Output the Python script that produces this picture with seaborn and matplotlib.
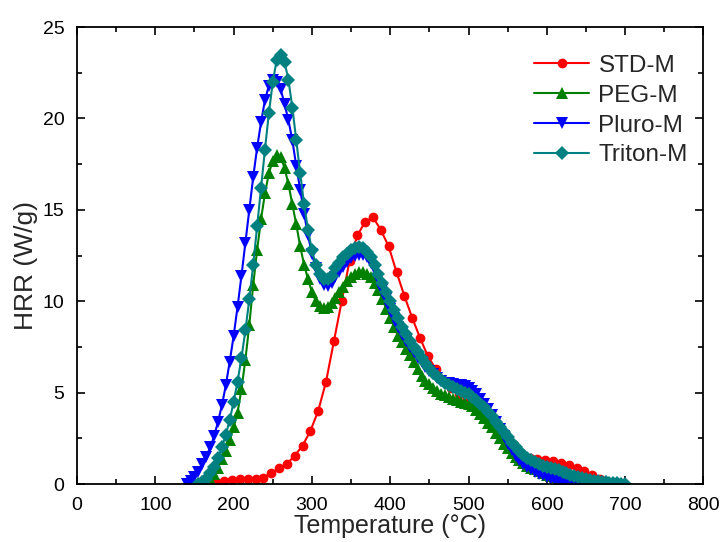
import pandas as pd
import seaborn as sns
import matplotlib.pyplot as plt
from matplotlib.ticker import MultipleLocator

# STD-M (red circles), sampled about every 10 °C
std_temp = [168, 178, 188, 198, 208, 218, 228, 238, 248, 258, 268, 278, 288, 298, 308, 318,
            328, 338, 348, 358, 368, 378, 388, 398, 408, 418, 428, 438, 448, 458, 468, 478,
            488, 498, 508, 518, 528, 538, 548, 558, 568, 578, 588, 598, 608, 618, 628, 638,
            648, 658, 668, 678, 688, 698]
std_hrr = [0.0, 0.1, 0.18, 0.23, 0.26, 0.28, 0.3, 0.35, 0.6, 0.85, 1.1, 1.55, 2.1, 2.9, 4.0, 5.6,
           7.8, 10.0, 12.2, 13.6, 14.35, 14.6, 13.9, 13.0, 11.6, 10.3, 9.1, 8.0, 7.0, 6.3, 5.7, 5.25,
           4.95, 4.7, 4.45, 4.05, 3.5, 2.8, 2.2, 1.75, 1.5, 1.4, 1.35, 1.3, 1.25, 1.15, 1.05, 0.9,
           0.7, 0.48, 0.28, 0.13, 0.04, 0.0]

# PEG-M (green up triangles)
peg_temp = [160, 165, 170, 175, 180, 185, 190, 195, 200, 205, 210, 215, 220, 225, 230, 235,
            240, 245, 250, 255, 260, 265, 270, 275, 280, 285, 290, 295, 300, 305, 310, 315,
            320, 325, 330, 335, 340, 345, 350, 355, 360, 365, 370, 375, 380, 385, 390, 395,
            400, 405, 410, 415, 420, 425, 430, 435, 440, 445, 450, 455, 460, 465, 470, 475,
            480, 485, 490, 495, 500, 505, 510, 515, 520, 525, 530, 535, 540, 545, 550, 555,
            560, 565, 570, 575, 580, 585, 590, 595, 600, 605, 610, 615, 620, 625, 630, 635,
            640, 645, 650]
peg_hrr = [0.0, 0.08, 0.3, 0.55, 0.9, 1.35, 1.8, 2.4, 3.1, 3.9, 5.2, 6.8, 8.7, 10.9, 12.8, 14.5,
           15.9, 17.0, 17.7, 18.0, 17.9, 17.3, 16.4, 15.3, 14.2, 13.0, 12.0, 11.2, 10.5, 10.0, 9.75, 9.65,
           9.7, 9.9, 10.2, 10.5, 10.8, 11.1, 11.3, 11.5, 11.6, 11.6, 11.5, 11.3, 11.0, 10.6, 10.1, 9.6,
           9.1, 8.6, 8.1, 7.75, 7.4, 7.05, 6.7, 6.3, 5.9, 5.65, 5.45, 5.25, 5.1, 4.95, 4.85, 4.75,
           4.65, 4.6, 4.5, 4.45, 4.4, 4.25, 4.05, 3.85, 3.6, 3.35, 3.1, 2.8, 2.5, 2.2, 1.95, 1.7,
           1.5, 1.3, 1.15, 1.0, 0.9, 0.8, 0.7, 0.6, 0.52, 0.44, 0.37, 0.3, 0.24, 0.18, 0.13, 0.09,
           0.05, 0.02, 0.0]

# Pluro-M (blue down triangles)
pluro_temp = [140, 145, 150, 155, 160, 165, 170, 175, 180, 185, 190, 195, 200, 205, 210, 215,
              220, 225, 230, 235, 240, 245, 250, 255, 260, 265, 270, 275, 280, 285, 290, 295,
              300, 305, 310, 315, 320, 325, 330, 335, 340, 345, 350, 355, 360, 365, 370, 375,
              380, 385, 390, 395, 400, 405, 410, 415, 420, 425, 430, 435, 440, 445, 450, 455,
              460, 465, 470, 475, 480, 485, 490, 495, 500, 505, 510, 515, 520, 525, 530, 535,
              540, 545, 550, 555, 560, 565, 570, 575, 580, 585, 590, 595, 600, 605, 610, 615,
              620, 625, 630, 635, 640, 645]
pluro_hrr = [0.0, 0.15, 0.4, 0.67, 1.1, 1.5, 2.0, 2.6, 3.4, 4.3, 5.4, 6.7, 8.1, 9.7, 11.4, 13.2,
             15.0, 16.8, 18.4, 19.8, 21.0, 21.8, 22.1, 22.0, 21.6, 20.8, 19.9, 18.8, 17.4, 16.1, 14.8, 13.6,
             12.6, 11.8, 11.2, 10.9, 10.85, 11.0, 11.3, 11.6, 11.9, 12.15, 12.35, 12.5, 12.55, 12.55, 12.4, 12.1,
             11.7, 11.2, 10.6, 10.1, 9.6, 9.1, 8.6, 8.2, 7.85, 7.5, 7.2, 6.9, 6.65, 6.4, 6.2, 6.0,
             5.8, 5.65, 5.55, 5.5, 5.45, 5.42, 5.4, 5.35, 5.25, 5.1, 4.9, 4.65, 4.4, 4.1, 3.8, 3.4,
             3.0, 2.6, 2.2, 1.85, 1.55, 1.3, 1.1, 0.95, 0.8, 0.68, 0.57, 0.47, 0.38, 0.3, 0.23, 0.17,
             0.12, 0.08, 0.05, 0.03, 0.01, 0.0]

# Triton-M (teal diamonds)
triton_temp = [155, 160, 165, 170, 175, 180, 185, 190, 195, 200, 205, 210, 215, 220, 225, 230,
               235, 240, 245, 250, 255, 260, 265, 270, 275, 280, 285, 290, 295, 300, 305, 310,
               315, 320, 325, 330, 335, 340, 345, 350, 355, 360, 365, 370, 375, 380, 385, 390,
               395, 400, 405, 410, 415, 420, 425, 430, 435, 440, 445, 450, 455, 460, 465, 470,
               475, 480, 485, 490, 495, 500, 505, 510, 515, 520, 525, 530, 535, 540, 545, 550,
               555, 560, 565, 570, 575, 580, 585, 590, 595, 600, 605, 610, 615, 620, 625, 630,
               635, 640, 645, 650, 655, 660, 665, 670, 675, 680, 685, 690, 695, 700]
triton_hrr = [0.0, 0.1, 0.3, 0.6, 0.95, 1.4, 2.0, 2.7, 3.5, 4.5, 5.6, 6.9, 8.4, 10.1, 12.0, 14.1,
              16.2, 18.3, 20.3, 22.0, 23.2, 23.5, 23.1, 22.1, 20.6, 18.8, 17.0, 15.3, 13.9, 12.8, 12.0, 11.5,
              11.2, 11.2, 11.4, 11.8, 12.1, 12.4, 12.6, 12.8, 12.9, 12.95, 12.9, 12.7, 12.4, 12.0, 11.5, 11.0,
              10.5, 10.0, 9.5, 9.1, 8.6, 8.2, 7.85, 7.5, 7.2, 6.9, 6.6, 6.35, 6.1, 5.9, 5.7, 5.55,
              5.4, 5.3, 5.2, 5.1, 5.0, 4.9, 4.75, 4.6, 4.4, 4.2, 3.95, 3.7, 3.4, 3.1, 2.85, 2.55,
              2.25, 2.0, 1.8, 1.6, 1.45, 1.3, 1.2, 1.1, 1.0, 0.95, 0.9, 0.82, 0.75, 0.68, 0.6, 0.52,
              0.45, 0.38, 0.32, 0.27, 0.22, 0.18, 0.15, 0.12, 0.1, 0.08, 0.06, 0.04, 0.02, 0.0]

sns.set_style('ticks')
plt.rcParams['font.family'] = ['Liberation Sans', 'DejaVu Sans']

fig, ax = plt.subplots(figsize=(7.2, 5.42), dpi=100)
fig.subplots_adjust(left=0.107, right=0.977, top=0.95, bottom=0.107)

series = [
    ('STD-M', std_temp, std_hrr, '#ff0000', 'o', 7),
    ('PEG-M', peg_temp, peg_hrr, '#008000', '^', 8.5),
    ('Pluro-M', pluro_temp, pluro_hrr, '#0000ff', 'v', 8.5),
    ('Triton-M', triton_temp, triton_hrr, '#008080', 'D', 7.5),
]

for name, temp, hrr, color, marker, msize in series:
    df = pd.DataFrame({'Temperature': temp, 'HRR': hrr})
    sns.lineplot(data=df, x='Temperature', y='HRR', ax=ax, color=color, marker=marker,
                 markersize=msize, markeredgewidth=0, linewidth=1.5, label=name)

ax.set_xlim(0, 800)
ax.set_ylim(0, 25)
ax.xaxis.set_major_locator(MultipleLocator(100))
ax.xaxis.set_minor_locator(MultipleLocator(50))
ax.yaxis.set_major_locator(MultipleLocator(5))
ax.yaxis.set_minor_locator(MultipleLocator(2.5))
ax.tick_params(which='both', direction='in', top=True, right=True, width=1.2,
               labelsize=14, colors='black')
ax.tick_params(which='major', length=6, pad=9)
ax.tick_params(which='minor', length=3.5)
for spine in ax.spines.values():
    spine.set_linewidth(1.3)
    spine.set_color('black')

ax.set_xlabel('Temperature (°C)', fontsize=18, labelpad=0)
ax.set_ylabel('HRR (W/g)', fontsize=19)
ax.yaxis.set_label_coords(-0.062, 0.479)

ax.legend(loc='upper right', bbox_to_anchor=(1.01, 0.987), frameon=False, fontsize=17.5,
          handlelength=2.3, handletextpad=0.37, labelspacing=0.32)

plt.savefig('out.png', dpi=100)
